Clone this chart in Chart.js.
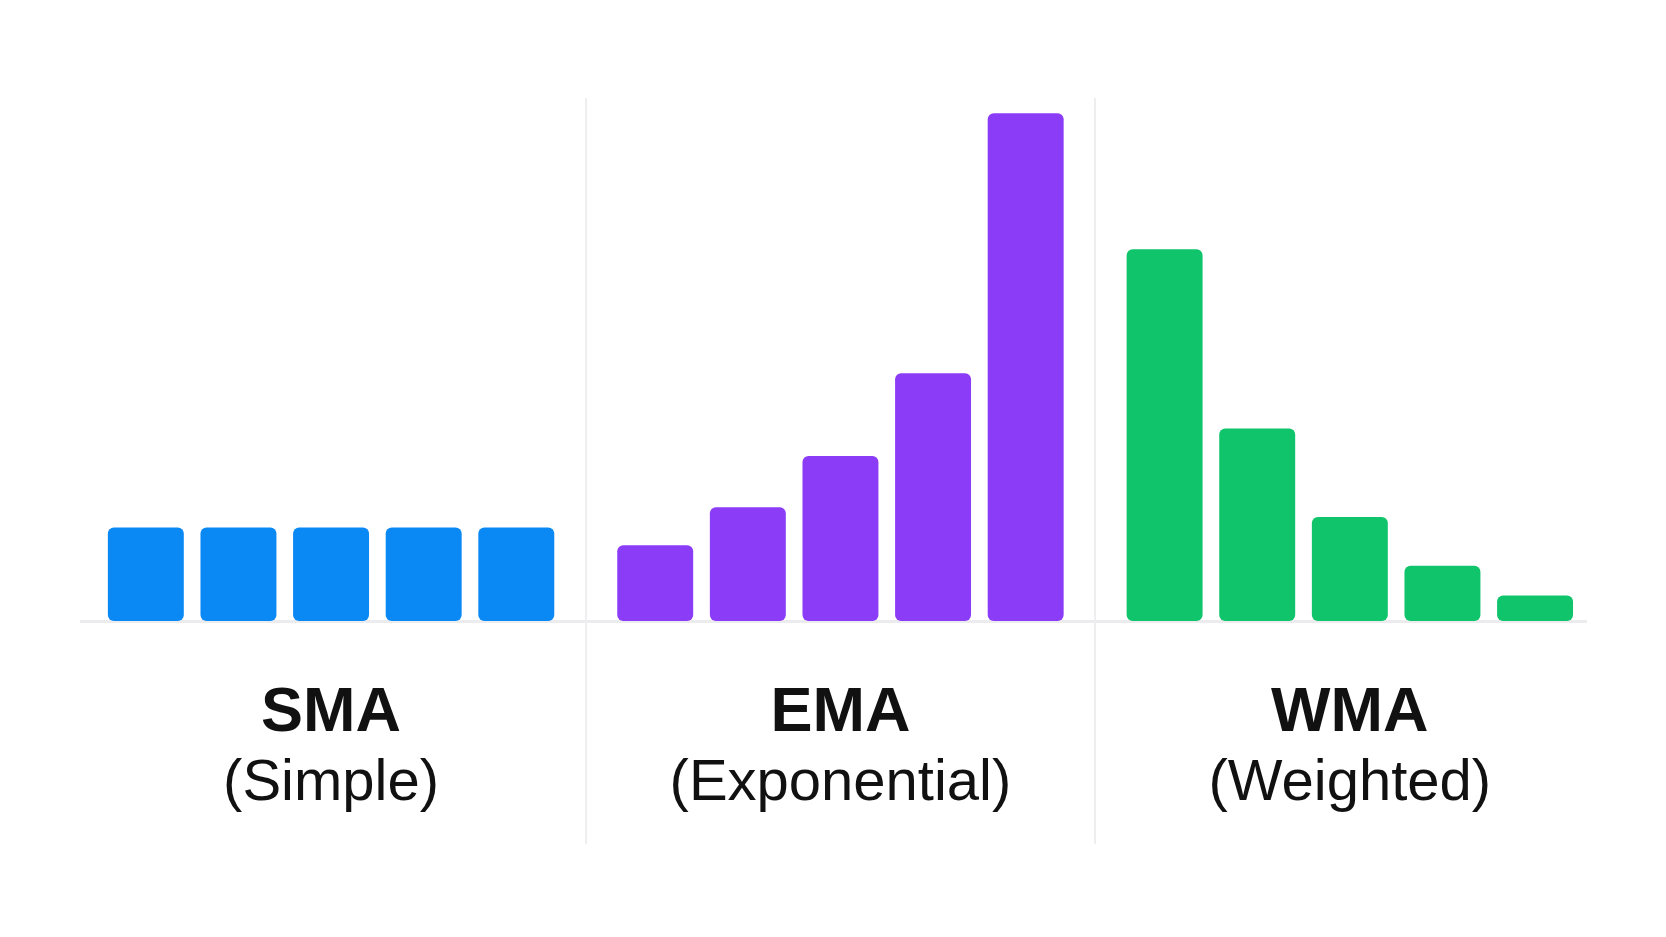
<!DOCTYPE html>
<html>
<head>
<meta charset="utf-8">
<script src="https://cdn.jsdelivr.net/npm/chart.js@4.4.1/dist/chart.umd.min.js"></script>
<style>
  html, body { margin: 0; padding: 0; background: #ffffff; }
  #wrap { width: 1666px; height: 937px; }
</style>
</head>
<body>
<div id="wrap"><canvas id="maChart"></canvas></div>
<script>
// Group names and subtitles
const groupNames = ['SMA', 'EMA', 'WMA'];
const groupSubtitles = ['(Simple)', '(Exponential)', '(Weighted)'];

// Relative weights
const smaValues = [18.4, 18.4, 18.4, 18.4, 18.4];
const emaValues = [14.9, 22.4, 32.5, 48.8, 100];
const wmaValues = [73.2, 37.9, 20.5, 10.9, 5.0];

const colors = ['#0a89f5', '#8b3cf7', '#0fc46b'];
const groupGap = 1.5;   // distance between last bar of a group and first of the next

function toPoints(values, groupIndex) {
    const start = groupIndex * (values.length - 1 + groupGap);
    return values.map((v, i) => ({ x: start + i, y: v }));
}

const groupCenters = groupNames.map((_, g) => g * (4 + groupGap) + 2);
const separators = [1, 2].map(g => g * (4 + groupGap) - groupGap / 2);

// Vertical separators between the groups, drawn across the full height
const separatorPlugin = {
    id: 'separators',
    beforeDatasetsDraw(chart) {
        const { ctx, scales: { x } } = chart;
        ctx.save();
        ctx.strokeStyle = '#eeeef1';
        ctx.lineWidth = 2;
        separators.forEach(v => {
            const px = Math.round(x.getPixelForValue(v));
            ctx.beginPath();
            ctx.moveTo(px, 98);
            ctx.lineTo(px, 844);
            ctx.stroke();
        });
        ctx.restore();
    }
};

const datasets = [smaValues, emaValues, wmaValues].map((vals, g) => ({
    label: groupNames[g],
    data: toPoints(vals, g),
    backgroundColor: colors[g],
    borderRadius: 6,
    borderSkipped: false,
    barPercentage: 0.82,
    categoryPercentage: 1,
    grouped: false
}));

const centerTicks = scale => {
    scale.ticks = groupCenters.map(v => ({ value: v }));
};

new Chart(document.getElementById('maChart'), {
    type: 'bar',
    data: { datasets },
    options: {
        responsive: true,
        maintainAspectRatio: false,
        animation: false,
        layout: { padding: { left: 81, right: 80, top: 98, bottom: 118 } },
        plugins: {
            legend: { display: false },
            tooltip: { enabled: false }
        },
        scales: {
            x: {
                type: 'linear',
                offset: false,
                min: -0.7,
                max: 15.55,
                grid: { display: false, drawTicks: false },
                border: { display: true, color: '#ececef', width: 3 },
                afterBuildTicks: centerTicks,
                afterFit: s => { s.height = 124; },
                ticks: {
                    padding: 61,
                    color: '#111111',
                    maxRotation: 0,
                    font: { family: 'Liberation Sans', size: 63, weight: 'bold', lineHeight: 1 },
                    callback: (v) => groupNames[groupCenters.indexOf(v)]
                }
            },
            x2: {
                type: 'linear',
                position: 'bottom',
                offset: false,
                min: -0.7,
                max: 15.55,
                grid: { display: false, drawTicks: false },
                border: { display: false },
                afterBuildTicks: centerTicks,
                afterFit: s => { s.height = 74; },
                ticks: {
                    padding: 4,
                    color: '#111111',
                    maxRotation: 0,
                    font: { family: 'Liberation Sans', size: 58, lineHeight: 1.2 },
                    callback: (v) => groupSubtitles[groupCenters.indexOf(v)]
                }
            },
            y: {
                display: false,
                min: 0,
                max: 103
            }
        }
    },
    plugins: [separatorPlugin]
});
</script>
</body>
</html>
